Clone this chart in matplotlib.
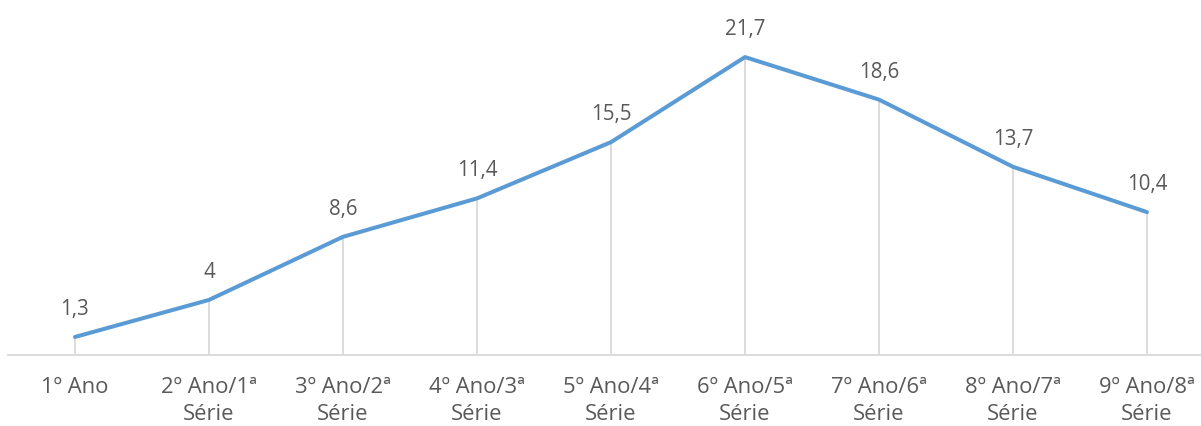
import matplotlib.pyplot as plt

plt.rcParams['font.family'] = ['Open Sans', 'DejaVu Sans']

categories = ['1º Ano', '2º Ano/1ª\nSérie', '3º Ano/2ª\nSérie', '4º Ano/3ª\nSérie',
              '5º Ano/4ª\nSérie', '6º Ano/5ª\nSérie', '7º Ano/6ª\nSérie',
              '8º Ano/7ª\nSérie', '9º Ano/8ª\nSérie']
values = [1.3, 4, 8.6, 11.4, 15.5, 21.7, 18.6, 13.7, 10.4]

line_color = '#5B9BD5'
text_color = '#595959'
grid_color = '#D9D9D9'

fig = plt.figure(figsize=(12.01, 4.27), dpi=100)
ax = fig.add_axes([8 / 1201, (427 - 355.8) / 427, 1206 / 1201, 343 / 427])

x = list(range(len(values)))
ax.vlines(x, 0, values, color=grid_color, linewidth=1.3, zorder=1)
ax.plot(x, values, color=line_color, linewidth=2.9, solid_joinstyle='round',
        solid_capstyle='round', zorder=3)

for xi, v in zip(x, values):
    label = f'{v:g}'.replace('.', ',')
    ax.annotate(label, (xi, v), xytext=(0, 13), textcoords='offset points',
                ha='center', va='bottom', fontsize=14.8, color=text_color)

ax.set_xlim(-0.5, 8.5)
ax.set_ylim(0, 25)
ax.set_xticks(x)
ax.set_xticklabels(categories, fontsize=15.8, color=text_color, linespacing=1.4)
ax.tick_params(axis='x', length=0, pad=15)
ax.set_yticks([])

for side in ['top', 'right', 'left']:
    ax.spines[side].set_visible(False)
ax.spines['bottom'].set_color(grid_color)
ax.spines['bottom'].set_linewidth(1.3)

fig.savefig('out.png', dpi=100)
